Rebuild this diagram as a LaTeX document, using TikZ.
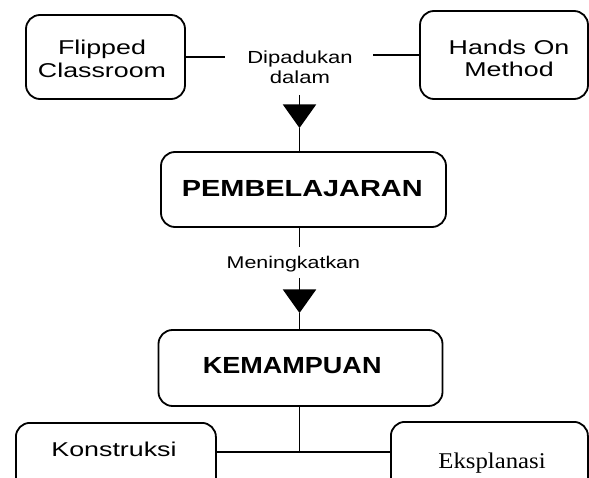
\documentclass[tikz,border=0pt]{standalone}
\usepackage{fontspec}
\setmainfont{Liberation Sans}
\newfontfamily\famA{Liberation Sans}[FakeStretch=1.34]
\newfontfamily\famB{Liberation Sans}[FakeStretch=1.26]
\newfontfamily\famC{Liberation Sans}[FakeStretch=1.24]
\newfontfamily\famD{Liberation Sans}[FakeStretch=1.16]
\newfontfamily\famS{Liberation Serif}[FakeStretch=1.1]
\usetikzlibrary{arrows.meta}
\tikzset{
  box/.style={draw, line width=1.8pt, rounded corners=14pt, inner sep=0pt},
  txt/.style={align=center, inner sep=0pt, anchor=base},
  conn/.style={line width=1.8pt},
  tri/.style={line width=1.8pt, -{Triangle[width=33pt,length=23.5pt]}},
}
\begin{document}
\begin{tikzpicture}[x=1pt,y=-1pt]
\clip (0,0) rectangle (589,478);
\fill[white] (0,0) rectangle (589,478);
% boxes
\node[box, minimum width=159pt, minimum height=84pt] (fc) at (105.5,57) {};
\node[box, minimum width=168pt, minimum height=88pt] (ho) at (504,55) {};
\node[box, minimum width=285pt, minimum height=75pt] (pem) at (303.5,189.5) {};
\node[box, minimum width=284pt, minimum height=76pt] (kem) at (300.5,368) {};
\node[box, anchor=north west, minimum width=200pt, minimum height=100pt] (kon) at (15,422) {};
\node[box, anchor=north west, minimum width=197pt, minimum height=100pt] (eks) at (390,421) {};
% texts (base = baseline of the last line)
\node[txt, font=\famA\fontsize{20}{22.3}\selectfont] (fct) at (102,77.3) {Flipped\\Classroom};
\node[txt, font=\famA\fontsize{20}{21.7}\selectfont] (hot) at (509,76.7) {Hands On\\Method};
\node[txt, font=\famB\fontsize{17.5}{20}\selectfont] (dip) at (300,83.3) {Dipadukan\\dalam};
\node[txt, font=\famC\fontsize{23.3}{26}\selectfont\bfseries] (pemt) at (302.3,196.7) {PEMBELAJARAN};
\node[txt, font=\famB\fontsize{17}{20}\selectfont] (men) at (293.4,269) {Meningkatkan};
\node[txt, font=\famD\fontsize{23.3}{26}\selectfont\bfseries] (kemt) at (292.2,373.3) {KEMAMPUAN};
\node[txt, font=\famA\fontsize{20}{22}\selectfont] (kont) at (114,456.7) {Konstruksi};
\node[txt, font=\famS\fontsize{22.5}{24}\selectfont] (ekst) at (492,468.3) {Eksplanasi};
% connector points
\coordinate (dl) at (225,57);
\coordinate (dr) at (373,55);
\coordinate (d1) at (299.5,95);
\coordinate (a1) at (299.5,128);
\coordinate (m1) at (299.5,247);
\coordinate (m2) at (299.5,278);
\coordinate (a2) at (299.5,313);
\coordinate (j) at (299.5,452);
% connectors
\draw[conn] (fc.east) -- (dl);
\draw[conn] (ho.west) -- (dr);
\draw[tri] (d1) -- (a1);
\draw[conn] (a1) -- (pem.north -| a1);
\draw[conn] (pem.south -| m1) -- (m1);
\draw[tri] (m2) -- (a2);
\draw[conn] (a2) -- (kem.north -| a2);
\draw[conn] (kem.south -| j) -- (j);
\draw[conn] (j -| kon.east) -- (j -| eks.west);
\end{tikzpicture}
\end{document}
